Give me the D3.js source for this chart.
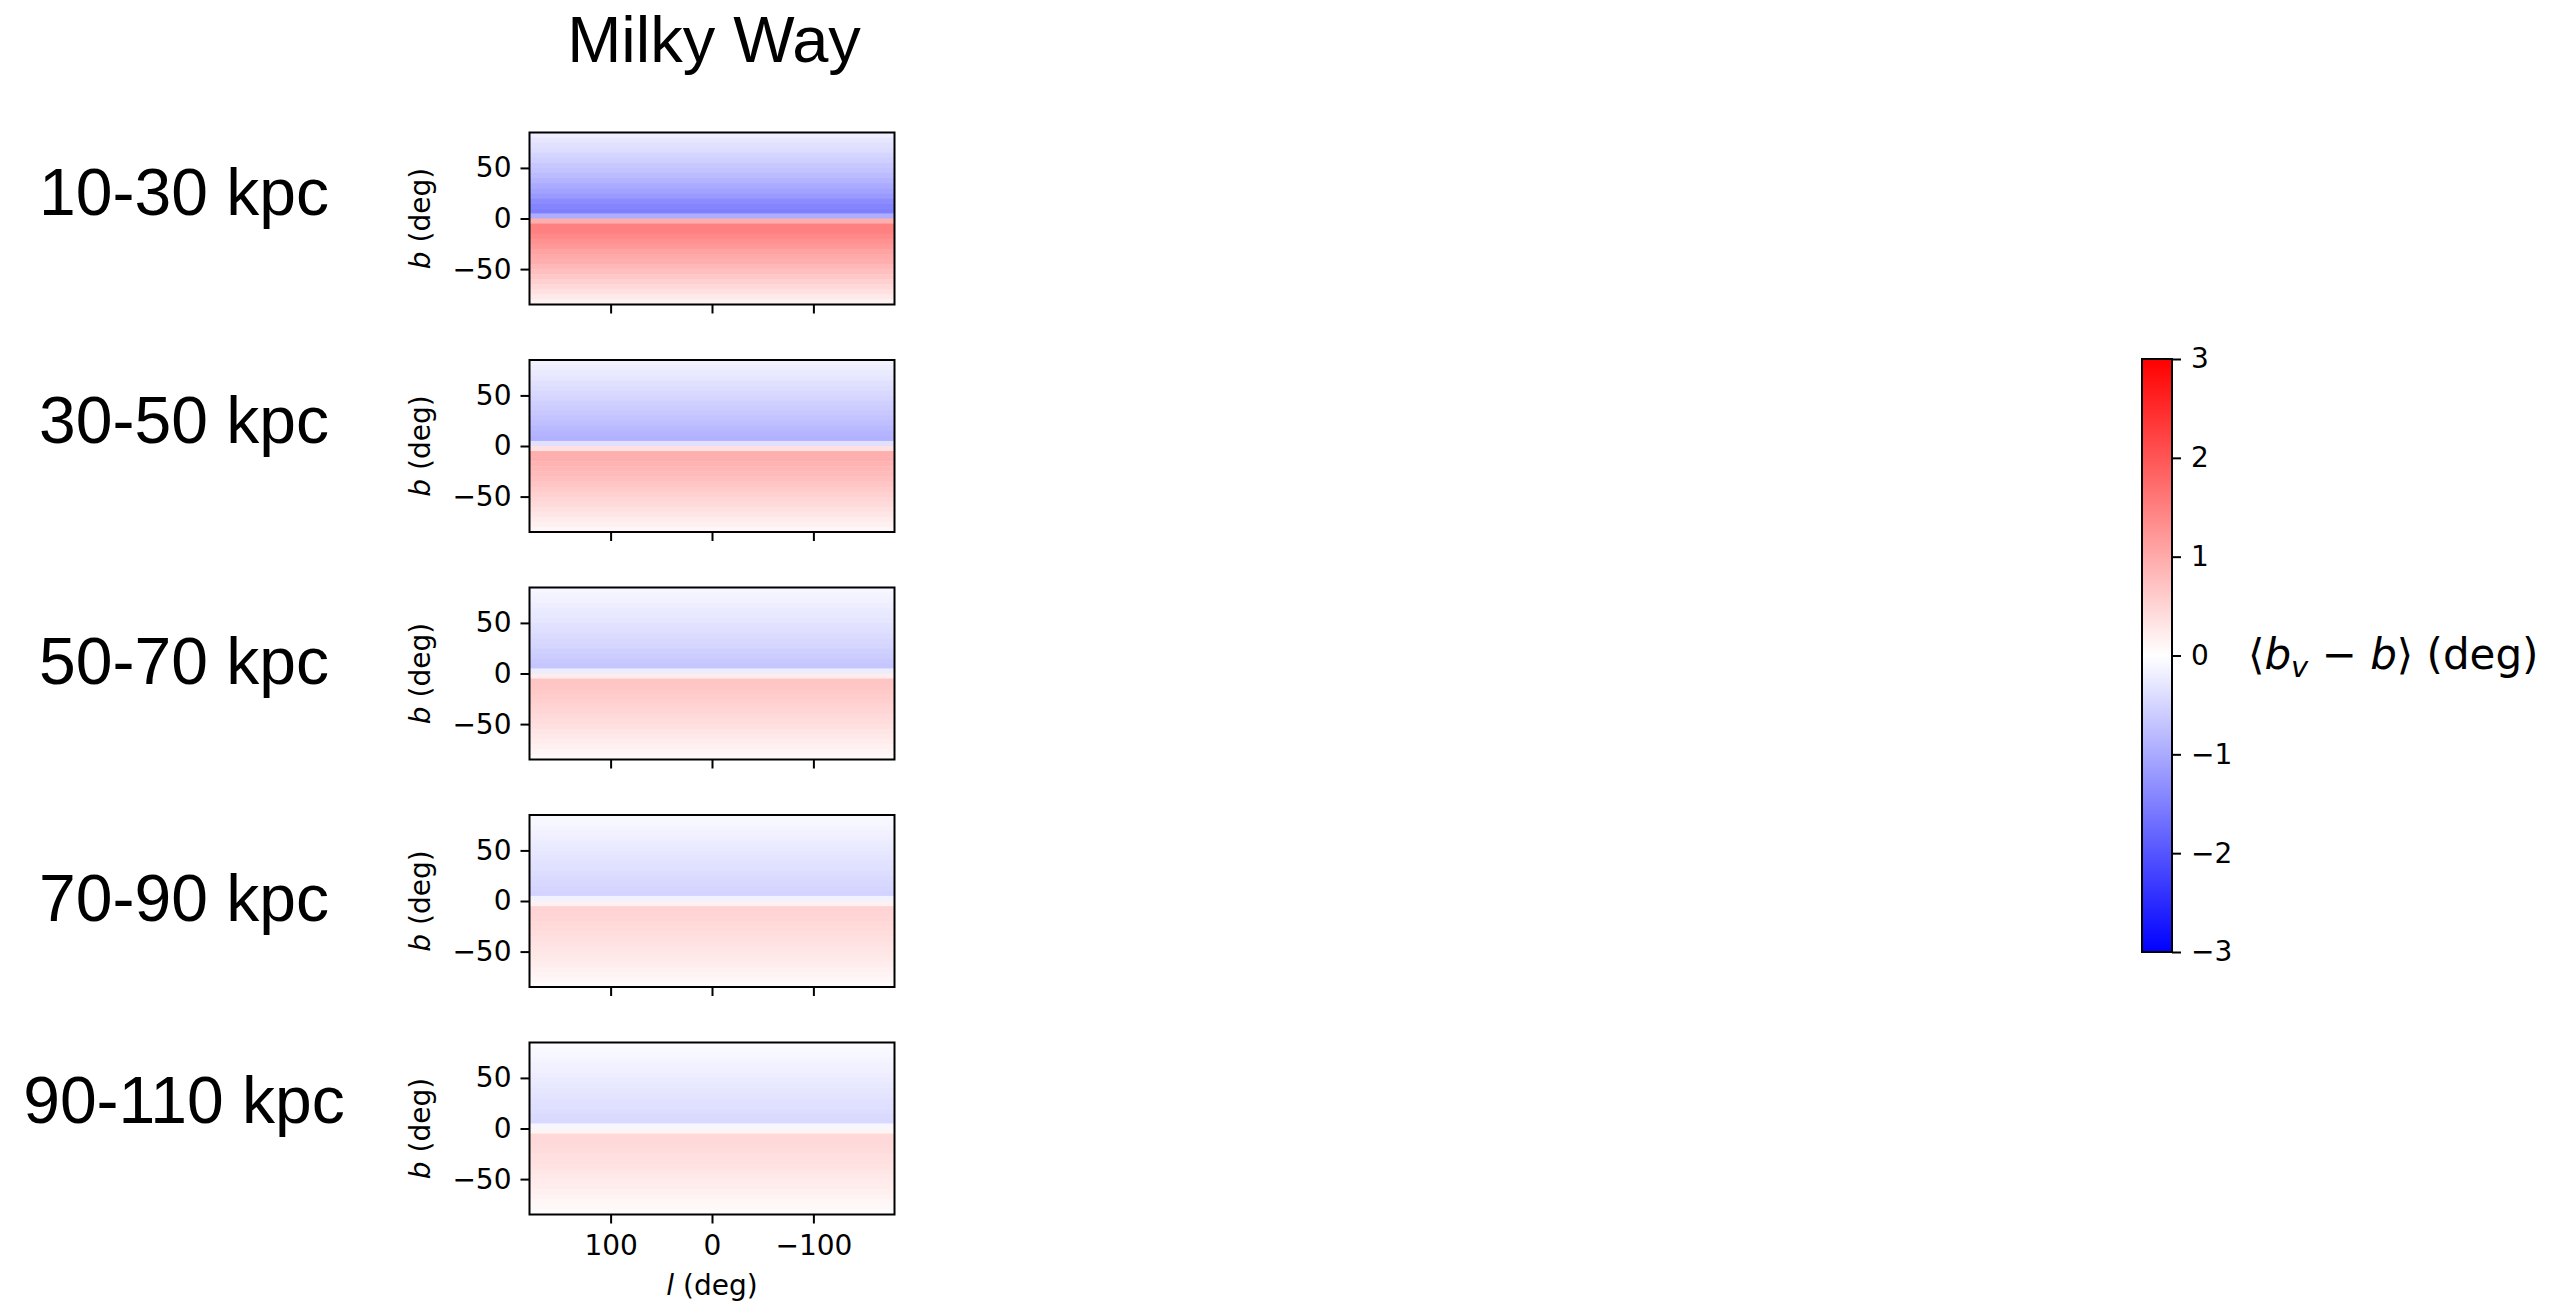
<!DOCTYPE html>
<html>
<head>
<meta charset="utf-8">
<script src="https://cdnjs.cloudflare.com/ajax/libs/d3/7.8.5/d3.min.js"></script>
<style>
body { margin: 0; background: #fff; }
</style>
</head>
<body>
<div id="chart"></div>
<script>
// distance bins, one panel per bin
var distLabels = ['10-30 kpc', '30-50 kpc', '50-70 kpc', '70-90 kpc', '90-110 kpc']

// latitude bin centres (deg), top to bottom, 5 deg wide
var bCenters = [82.5, 77.5, 72.5, 67.5, 62.5, 57.5, 52.5, 47.5, 42.5, 37.5, 32.5, 27.5, 22.5, 17.5, 12.5, 7.5, 2.5,
    -2.5, -7.5, -12.5, -17.5, -22.5, -27.5, -32.5, -37.5, -42.5, -47.5, -52.5, -57.5, -62.5, -67.5, -72.5, -77.5, -82.5]

// mean <b_v - b> (deg) per latitude bin
var shift10 = [-0.2, -0.3, -0.35, -0.4, -0.5, -0.55, -0.65, -0.7, -0.8, -0.9, -1.0, -1.1, -1.2, -1.35, -1.45, -1.5, -0.95,
    0.95, 1.5, 1.5, 1.4, 1.3, 1.2, 1.1, 1.0, 0.95, 0.85, 0.75, 0.65, 0.55, 0.45, 0.35, 0.25, 0.15]
var shift30 = [-0.15, -0.2, -0.25, -0.3, -0.35, -0.4, -0.45, -0.5, -0.55, -0.6, -0.65, -0.7, -0.75, -0.82, -0.88, -0.92, -0.35,
    0.35, 0.95, 0.95, 0.9, 0.85, 0.8, 0.75, 0.68, 0.62, 0.55, 0.5, 0.43, 0.37, 0.3, 0.24, 0.17, 0.1]
var shift50 = [-0.1, -0.13, -0.16, -0.2, -0.23, -0.27, -0.3, -0.34, -0.38, -0.42, -0.46, -0.5, -0.55, -0.6, -0.65, -0.68, -0.22,
    0.22, 0.68, 0.67, 0.64, 0.6, 0.56, 0.52, 0.48, 0.44, 0.4, 0.36, 0.31, 0.27, 0.22, 0.17, 0.12, 0.07]
var shift70 = [-0.08, -0.1, -0.13, -0.16, -0.19, -0.22, -0.25, -0.28, -0.31, -0.34, -0.37, -0.4, -0.43, -0.46, -0.5, -0.52, -0.16,
    0.17, 0.52, 0.51, 0.49, 0.46, 0.43, 0.4, 0.37, 0.34, 0.31, 0.28, 0.25, 0.21, 0.17, 0.13, 0.09, 0.05]
var shift90 = [-0.06, -0.08, -0.1, -0.13, -0.16, -0.18, -0.21, -0.24, -0.27, -0.3, -0.32, -0.35, -0.38, -0.4, -0.43, -0.45, -0.11,
    0.13, 0.46, 0.45, 0.43, 0.41, 0.38, 0.36, 0.33, 0.3, 0.27, 0.24, 0.21, 0.18, 0.15, 0.11, 0.08, 0.04]
var panelData = [shift10, shift30, shift50, shift70, shift90]

var lTicks = [100, 0, -100]
var bTicks = [50, 0, -50]
var cbTicks = [-3, -2, -1, 0, 1, 2, 3]

// layout
var width = 2575,
    height = 1301,
    panelLeft = 529.5,
    panelTop = 132.5,
    panelStep = 227.5,
    panelWidth = 365,
    panelHeight = 172,
    labelBase = [215, 443, 684, 921, 1123]

var sansFont = 'Liberation Sans, Arial, Helvetica, sans-serif'
var mplFont = 'DejaVu Sans, sans-serif'

var fmt = d => d < 0 ? '\u2212' + Math.abs(d) : String(d)

var svg = d3.select('#chart')
    .append('svg')
    .attr('width', width)
    .attr('height', height)
    .style('display', 'block')

// scales
var xscale = d3.scaleLinear()
    .domain([180, -180])
    .range([0, panelWidth])

var yscale = d3.scaleLinear()
    .domain([85, -85])
    .range([0, panelHeight])

var color = d3.scaleLinear()
    .domain([-3, 0, 3])
    .range(['#0000ff', '#ffffff', '#ff0000'])

// title
svg.append('text')
    .attr('x', 714)
    .attr('y', 62)
    .attr('text-anchor', 'middle')
    .attr('font-family', sansFont)
    .attr('font-size', 65)
    .text('Milky Way')

// panels
panelData.forEach((vals, i) => {
    var g = svg.append('g')
        .attr('transform', `translate(${panelLeft},${panelTop + i * panelStep})`)

    g.selectAll('rect.cell')
        .data(vals)
        .enter()
        .append('rect')
        .attr('class', 'cell')
        .attr('x', xscale(180))
        .attr('width', xscale(-180) - xscale(180))
        .attr('y', (d, j) => yscale(bCenters[j] + 2.5))
        .attr('height', (d, j) => yscale(bCenters[j] - 2.5) - yscale(bCenters[j] + 2.5) + 0.5)
        .attr('fill', d => color(d))

    var yaxis = d3.axisLeft(yscale)
        .tickValues(bTicks)
        .tickSize(9)
        .tickPadding(9)
        .tickFormat(fmt)
    var ya = g.append('g').call(yaxis)
    ya.select('.domain').remove()

    var last = i === panelData.length - 1
    var xaxis = d3.axisBottom(xscale)
        .tickValues(lTicks)
        .tickSize(9)
        .tickPadding(12)
        .tickFormat(last ? fmt : '')
    var xa = g.append('g')
        .attr('transform', `translate(0,${panelHeight})`)
        .call(xaxis)
    xa.select('.domain').remove()

    g.selectAll('.tick line').attr('stroke-width', 2)
    g.selectAll('.tick text')
        .attr('font-family', mplFont)
        .attr('font-size', 28)
        .attr('fill', '#000')

    // frame
    g.append('rect')
        .attr('width', panelWidth)
        .attr('height', panelHeight)
        .attr('fill', 'none')
        .attr('stroke', '#000')
        .attr('stroke-width', 2)

    // b label
    var bl = g.append('text')
        .attr('transform', `translate(-100,${panelHeight / 2}) rotate(-90)`)
        .attr('text-anchor', 'middle')
        .attr('font-family', mplFont)
        .attr('font-size', 28)
    bl.append('tspan').attr('font-style', 'italic').text('b')
    bl.append('tspan').text(' (deg)')

    if (last) {
        var xl = g.append('text')
            .attr('x', panelWidth / 2)
            .attr('y', 252)
            .attr('text-anchor', 'middle')
            .attr('font-family', mplFont)
            .attr('font-size', 28)
        xl.append('tspan').attr('font-style', 'italic').text('l')
        xl.append('tspan').text(' (deg)')
    }

    // distance label
    svg.append('text')
        .attr('x', 184)
        .attr('y', labelBase[i])
        .attr('text-anchor', 'middle')
        .attr('font-family', sansFont)
        .attr('font-size', 66)
        .text(distLabels[i])
})

// colorbar
var cbX = 2142, cbY = 359, cbW = 30, cbH = 593

var cscale = d3.scaleLinear()
    .domain([3, -3])
    .range([0, cbH])

var grad = svg.append('defs')
    .append('linearGradient')
    .attr('id', 'bwr')
    .attr('x1', 0).attr('y1', 0)
    .attr('x2', 0).attr('y2', 1)
grad.selectAll('stop')
    .data(cbTicks.slice().reverse())
    .enter()
    .append('stop')
    .attr('offset', d => cscale(d) / cbH)
    .attr('stop-color', d => color(d))

var cb = svg.append('g')
    .attr('transform', `translate(${cbX},${cbY})`)
cb.append('rect')
    .attr('width', cbW)
    .attr('height', cbH)
    .attr('fill', 'url(#bwr)')

var caxis = d3.axisRight(cscale)
    .tickValues(cbTicks)
    .tickSize(9)
    .tickPadding(10)
    .tickFormat(fmt)
var ca = cb.append('g')
    .attr('transform', `translate(${cbW},0)`)
    .call(caxis)
ca.select('.domain').remove()
ca.selectAll('.tick line').attr('stroke-width', 2)
ca.selectAll('.tick text')
    .attr('font-family', mplFont)
    .attr('font-size', 28)
    .attr('fill', '#000')

cb.append('rect')
    .attr('width', cbW)
    .attr('height', cbH)
    .attr('fill', 'none')
    .attr('stroke', '#000')
    .attr('stroke-width', 2)

// colorbar label: <b_v - b> (deg)
var cl = svg.append('text')
    .attr('x', 2248)
    .attr('y', 669)
    .attr('font-family', mplFont)
    .attr('font-size', 42)
cl.append('tspan').text('\u27e8')
cl.append('tspan').attr('font-style', 'italic').text('b')
cl.append('tspan').attr('font-style', 'italic').attr('font-size', 29).attr('dy', 8).text('v')
cl.append('tspan').attr('dy', -8).text(' \u2212 ')
cl.append('tspan').attr('font-style', 'italic').text('b')
cl.append('tspan').text('\u27e9 (deg)')
</script>
</body>
</html>
